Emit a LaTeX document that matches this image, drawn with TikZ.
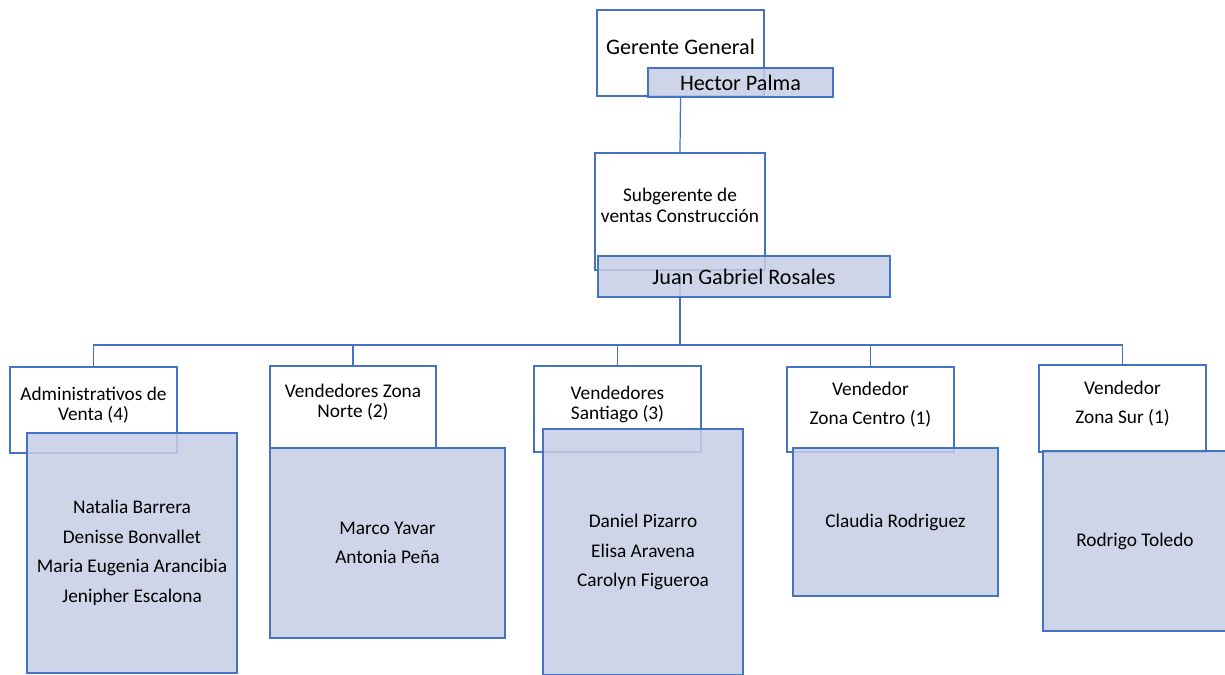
\documentclass[tikz,border=0pt]{standalone}
\usepackage{fontspec}
\setmainfont{Carlito}
\definecolor{orgblue}{RGB}{68,114,196}
\definecolor{orgfill}{RGB}{199,206,229}
\tikzset{
  sz/.style 2 args={minimum width=#1*0.02cm, minimum height=#2*0.02cm},
  role/.style={draw=orgblue, line width=1.4pt, fill=white, inner sep=0pt, outer sep=0pt,
    align=center, text depth=7pt, font=\fontsize{11}{11.5}\selectfont},
  head/.style={role, font=\fontsize{12.6}{14}\selectfont},
  who/.style={draw=orgblue, line width=0.8pt, fill=orgfill, fill opacity=0.85, text opacity=1,
    inner sep=0pt, outer sep=0pt, align=center, font=\fontsize{11}{16.8}\selectfont},
  whohead/.style={who, font=\fontsize{12.6}{14}\selectfont},
  link/.style={draw=orgblue, line width=0.7pt}
}

\begin{document}
\begin{tikzpicture}[x=0.02cm, y=-0.02cm]
  \useasboundingbox (0,0) rectangle (1225,675);

  % cargos
  \node[head, sz={167}{86}] (gg) at (680.5,53) {Gerente General};
  \node[role, sz={170}{117}] (sg) at (680,211.5) {Subgerente de\\ventas Construcción};
  \node[role, sz={167}{86}] (adm) at (93.5,410) {Administrativos de\\Venta (4)};
  \node[role, sz={166}{82}] (nor) at (353,407) {Vendedores Zona\\Norte (2)};
  \node[role, sz={167}{86}] (stg) at (617.5,409) {Vendedores\\Santiago (3)};
  \node[role, sz={167}{85}] (cen) at (870.5,409.5) {Vendedor\\[5.5pt]Zona Centro (1)};
  \node[role, sz={167}{87}] (sur) at (1122.5,408.5) {Vendedor\\[5.5pt]Zona Sur (1)};

  % lineas de dependencia
  \coordinate (bus) at (680,345);
  \draw[link] (gg.south) -- (sg.north);
  \foreach \c in {adm,nor,stg,cen,sur}
    \draw[link] (sg.south) -- (sg.south |- bus) -| (\c.north);

  % personas
  \node[whohead, sz={185}{29}] (hp) at (740.5,82.5) {Hector Palma};
  \node[whohead, sz={292}{41}] (jgr) at (744,276.5) {Juan Gabriel Rosales};
  \node[who, sz={210}{240}] (admn) at (132,553)
    {Natalia Barrera\\Denisse Bonvallet\\Maria Eugenia Arancibia\\Jenipher Escalona};
  \node[who, sz={235}{190}] (norn) at (387.5,543) {Marco Yavar\\Antonia Peña};
  \node[who, sz={200}{246}] (stgn) at (643,552) {Daniel Pizarro\\Elisa Aravena\\Carolyn Figueroa};
  \node[who, sz={205}{148}] (cenn) at (895.5,522) {Claudia Rodriguez};
  \node[who, sz={184}{180}] (surn) at (1135,541) {Rodrigo Toledo};
\end{tikzpicture}
\end{document}
